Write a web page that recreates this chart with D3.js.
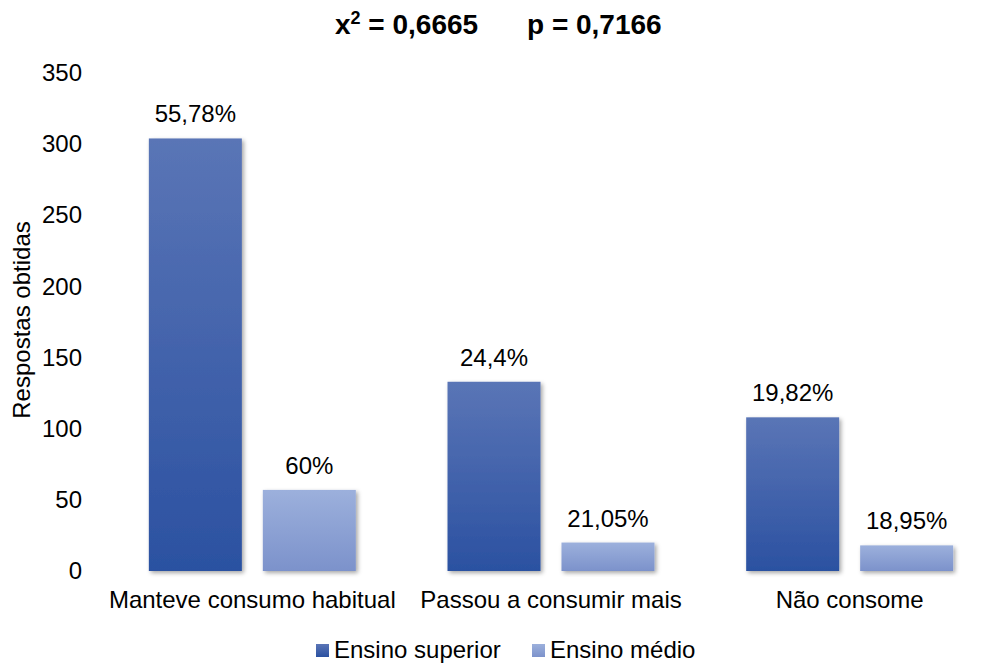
<!DOCTYPE html>
<html>
<head>
<meta charset="utf-8">
<script src="https://cdn.jsdelivr.net/npm/d3@7"></script>
<style>
	html, body { margin: 0; padding: 0; background: white; }
	svg { display: block; }
</style>
</head>
<body>
<div id="chart"></div>
<script>
////////// Data //////////
const categories = ['Manteve consumo habitual', 'Passou a consumir mais', 'Não consome'];
const seriesNames = ['Ensino superior', 'Ensino médio'];
const superiorValues = [304, 133, 108];
const medioValues = [57, 20, 18];
const superiorLabels = ['55,78%', '24,4%', '19,82%'];
const medioLabels = ['60%', '21,05%', '18,95%'];
const yTicks = [0, 50, 100, 150, 200, 250, 300, 350];

////////// Layout //////////
const width = 987;
const height = 664;
const plotLeft = 103;
const plotRight = 999;
const plotTop = 73;
const plotBottom = 571;
const font = 'Liberation Sans, Arial, sans-serif';
const fontSize = 24;
const textColor = '#000000';
const gridColor = '#d9d9d9';
const seriesColors = [
	{ top: '#5a75b6', bottom: '#2b51a1' },
	{ top: '#9cb0dc', bottom: '#7c92cb' }
];

const svg = d3.select('#chart').append('svg')
	.attr('width', width)
	.attr('height', height)
	.style('font-family', font);

const defs = svg.append('defs');

// gradients for bars
seriesColors.forEach((c, i) => {
	const grad = defs.append('linearGradient')
		.attr('id', `grad${i}`)
		.attr('x1', 0).attr('y1', 0).attr('x2', 0).attr('y2', 1);
	grad.append('stop').attr('offset', '0%').attr('stop-color', c.top);
	grad.append('stop').attr('offset', '100%').attr('stop-color', c.bottom);
});

// soft shadow like the office chart
const shadow = defs.append('filter')
	.attr('id', 'shadow')
	.attr('x', '-20%').attr('y', '-20%').attr('width', '140%').attr('height', '140%');
shadow.append('feDropShadow')
	.attr('dx', 2).attr('dy', 2)
	.attr('stdDeviation', 2)
	.attr('flood-color', '#000')
	.attr('flood-opacity', 0.35);

////////// Scales //////////
const x0 = d3.scaleBand()
	.domain(categories)
	.range([plotLeft, plotRight])
	.paddingInner(0.307)
	.paddingOuter(0.1535);

const x1 = d3.scaleBand()
	.domain(seriesNames)
	.range([0, x0.bandwidth()])
	.paddingInner(0.184)
	.paddingOuter(0);

const y = d3.scaleLinear()
	.domain([0, 350])
	.range([plotBottom, plotTop]);

////////// Grid + Y axis //////////
const yAxis = d3.axisLeft(y)
	.tickValues(yTicks)
	.tickSize(-(plotRight - plotLeft))
	.tickPadding(21)
	.tickFormat(d3.format('d'));

const yAxisG = svg.append('g')
	.attr('transform', `translate(${plotLeft}, 0)`)
	.call(yAxis);
yAxisG.select('.domain').remove();
yAxisG.selectAll('.tick line')
	.attr('stroke', d => d === 0 ? '#bfbfbf' : gridColor)
	.attr('stroke-width', 1.5)
	.attr('filter', 'url(#shadow)');
yAxisG.selectAll('.tick text')
	.attr('fill', textColor)
	.style('font-size', `${fontSize}px`)
	.style('font-family', font);

////////// Bars //////////
const seriesData = [superiorValues, medioValues];
const labelData = [superiorLabels, medioLabels];

const groups = svg.append('g').selectAll('.group')
	.data(categories)
	.enter().append('g')
		.attr('class', 'group')
		.attr('transform', d => `translate(${x0(d)}, 0)`);

groups.selectAll('rect')
	.data((d, i) => seriesNames.map((s, j) => ({ s, j, v: seriesData[j][i] })))
	.enter().append('rect')
		.attr('x', d => x1(d.s))
		.attr('y', d => y(d.v))
		.attr('width', x1.bandwidth())
		.attr('height', d => y(0) - y(d.v))
		.attr('fill', d => `url(#grad${d.j})`)
		.attr('filter', 'url(#shadow)');

groups.selectAll('.label')
	.data((d, i) => seriesNames.map((s, j) => ({ s, v: seriesData[j][i], t: labelData[j][i] })))
	.enter().append('text')
		.attr('class', 'label')
		.attr('x', d => x1(d.s) + x1.bandwidth() / 2)
		.attr('y', d => y(d.v) - 16)
		.attr('text-anchor', 'middle')
		.style('font-size', `${fontSize}px`)
		.attr('fill', textColor)
		.text(d => d.t);

////////// X axis labels //////////
svg.append('g').selectAll('.cat')
	.data(categories)
	.enter().append('text')
		.attr('class', 'cat')
		.attr('x', d => x0(d) + x0.bandwidth() / 2)
		.attr('y', 608)
		.attr('text-anchor', 'middle')
		.style('font-size', `${fontSize}px`)
		.attr('fill', textColor)
		.text(d => d);

////////// Y axis title //////////
svg.append('text')
	.attr('transform', 'translate(30, 320) rotate(-90)')
	.attr('text-anchor', 'middle')
	.style('font-size', `${fontSize}px`)
	.attr('fill', textColor)
	.text('Respostas obtidas');

////////// Title //////////
const titleSize = 28;
const title1 = svg.append('text')
	.attr('x', 335)
	.attr('y', 34)
	.style('font-size', `${titleSize}px`)
	.style('font-weight', 'bold')
	.attr('fill', textColor);
title1.append('tspan').text('x');
title1.append('tspan').attr('dy', -10).style('font-size', '18px').text('2');
title1.append('tspan').attr('dy', 10).text(' = 0,6665');

svg.append('text')
	.attr('x', 527)
	.attr('y', 34)
	.style('font-size', `${titleSize}px`)
	.style('font-weight', 'bold')
	.attr('fill', textColor)
	.text('p = 0,7166');

////////// Legend //////////
const legendX = [316, 532];
const legend = svg.append('g').selectAll('.legendItem')
	.data(seriesNames)
	.enter().append('g')
		.attr('class', 'legendItem')
		.attr('transform', (d, i) => `translate(${legendX[i]}, 644)`);
legend.append('rect')
	.attr('width', 13)
	.attr('height', 13)
	.attr('fill', (d, i) => `url(#grad${i})`);
legend.append('text')
	.attr('x', 18)
	.attr('y', 14)
	.style('font-size', `${fontSize}px`)
	.attr('fill', textColor)
	.text(d => d);
</script>
</body>
</html>
